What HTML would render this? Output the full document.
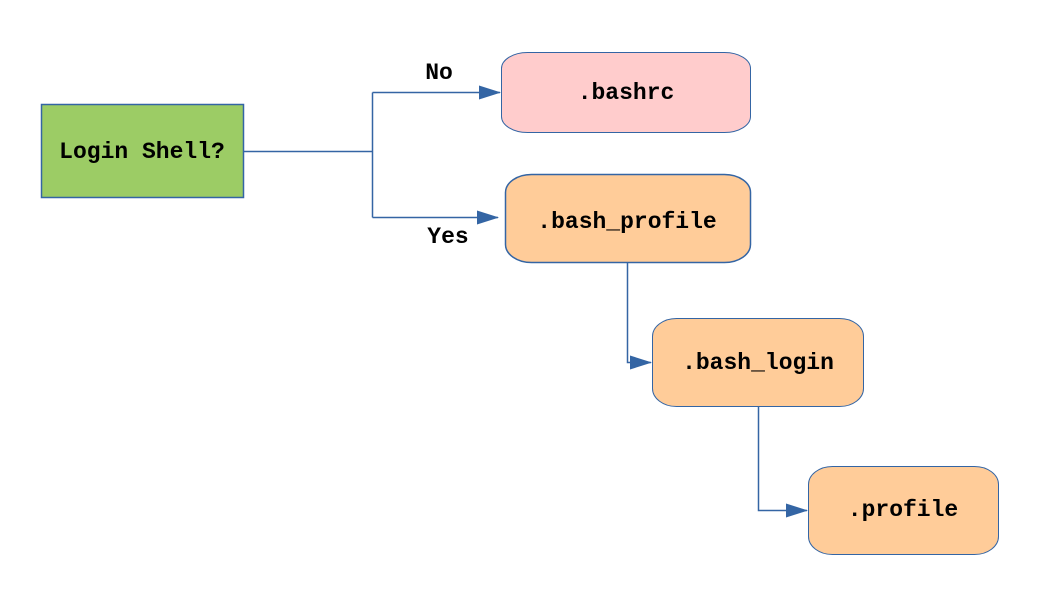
<!DOCTYPE html>
<html><head><style>
body{margin:0;background:#fff}
svg text{font-family:"Liberation Mono",monospace;font-weight:bold;font-size:23px;fill:#000}
</style></head><body>
<svg width="1056" height="611" viewBox="0 0 1056 611" xmlns="http://www.w3.org/2000/svg">
<defs><marker id="a" markerWidth="22" markerHeight="14" refX="21" refY="7" orient="auto" markerUnits="userSpaceOnUse"><path d="M0,0 L22,7 L0,14 z" fill="#3465a4"/></marker></defs>
<rect x="41.5" y="104.5" width="202" height="93" fill="#9ccc65" stroke="#3465a4" stroke-width="1.5"/>
<text x="142" y="158" text-anchor="middle">Login Shell?</text>
<rect x="501.5" y="52.5" width="249" height="80" rx="26" ry="16" fill="#ffcccc" stroke="#3465a4" stroke-width="1"/>
<text x="626" y="99" text-anchor="middle">.bashrc</text>
<rect x="505.5" y="174.5" width="245" height="88" rx="26" ry="18" fill="#ffcc99" stroke="#3465a4" stroke-width="1.5"/>
<text x="627" y="228" text-anchor="middle">.bash_profile</text>
<rect x="652.5" y="318.5" width="211" height="88" rx="24" ry="18" fill="#ffcc99" stroke="#3465a4" stroke-width="1"/>
<text x="758" y="369" text-anchor="middle">.bash_login</text>
<rect x="808.5" y="466.5" width="190" height="88" rx="24" ry="18" fill="#ffcc99" stroke="#3465a4" stroke-width="1"/>
<text x="903" y="516" text-anchor="middle">.profile</text>
<g fill="none" stroke="#3465a4" stroke-width="1.5">
<path d="M243,151.5 H372.5"/>
<path d="M372.5,92.5 V217.5"/>
<path d="M372.5,92.5 H500" marker-end="url(#a)"/>
<path d="M372.5,217.5 H498" marker-end="url(#a)"/>
<path d="M627.5,262 V362.5 H651" marker-end="url(#a)"/>
<path d="M758.5,406 V510.5 H807" marker-end="url(#a)"/>
</g>
<text x="439" y="79" text-anchor="middle">No</text>
<text x="448" y="243" text-anchor="middle">Yes</text>
</svg>
</body></html>
